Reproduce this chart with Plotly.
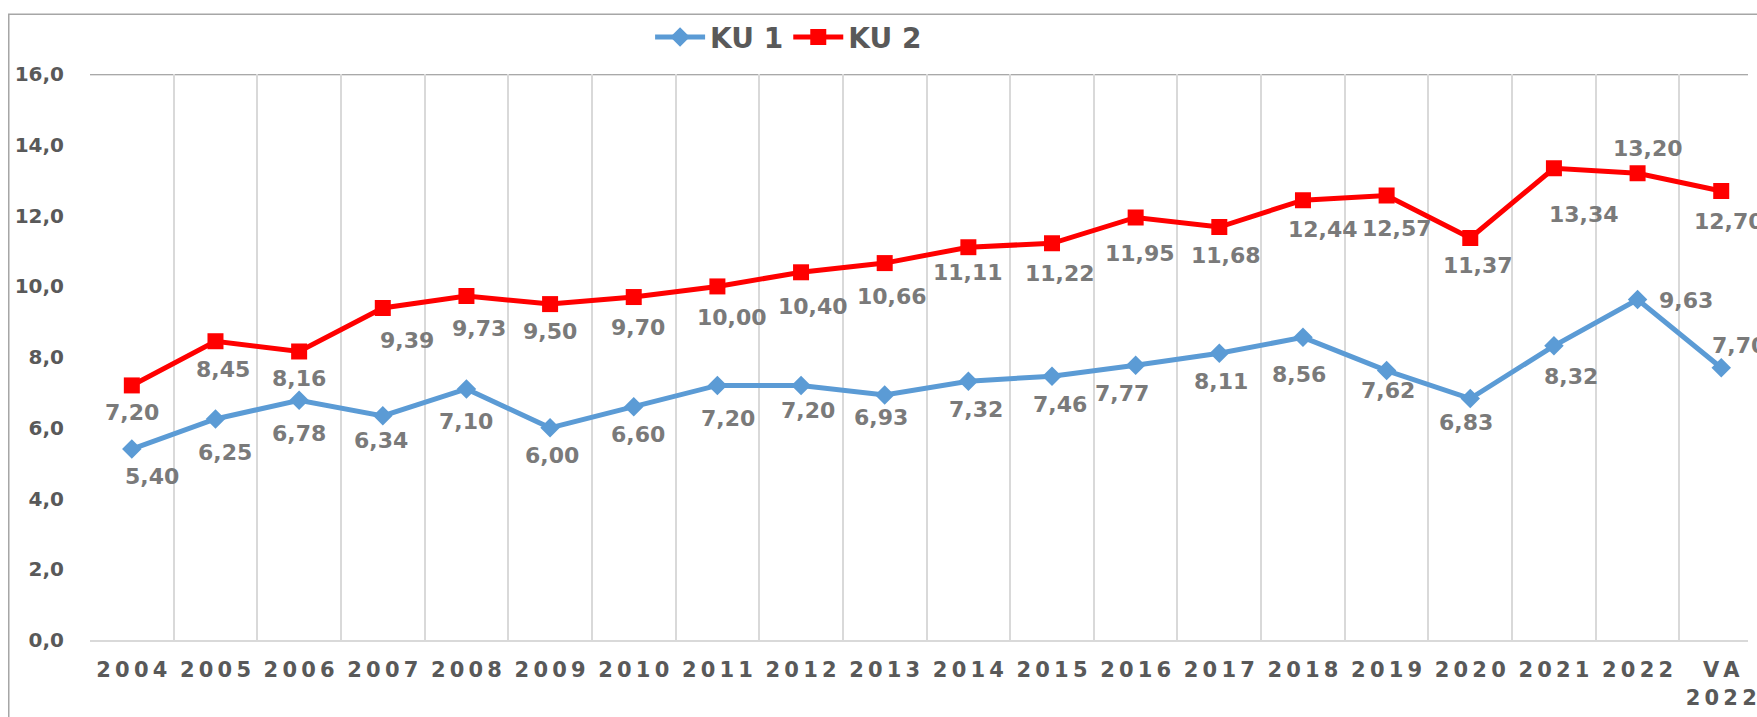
import plotly.graph_objects as go

categories = ["2004", "2005", "2006", "2007", "2008", "2009", "2010", "2011", "2012", "2013",
              "2014", "2015", "2016", "2017", "2018", "2019", "2020", "2021", "2022", "VA 2022"]
ku1 = [5.40, 6.25, 6.78, 6.34, 7.10, 6.00, 6.60, 7.20, 7.20, 6.93,
       7.32, 7.46, 7.77, 8.11, 8.56, 7.62, 6.83, 8.32, 9.63, 7.70]
ku2 = [7.20, 8.45, 8.16, 9.39, 9.73, 9.50, 9.70, 10.00, 10.40, 10.66,
       11.11, 11.22, 11.95, 11.68, 12.44, 12.57, 11.37, 13.34, 13.20, 12.70]
series_names = ["KU 1", "KU 2"]
y_ticks = [0, 2, 4, 6, 8, 10, 12, 14, 16]

# label offsets in pixels (dx right, dy down) — styling only
ku1_off = [(20, 27), (10, 33), (0, 33), (-2, 25), (0, 33), (2, 28), (4, 28), (11, 33), (7, 25), (-4, 23),
           (8, 28), (8, 28), (-14, 28), (2, 28), (-4, 37), (1, 20), (-4, 24), (17, 31), (48, 1), (18, -22)]
ku2_off = [(0, 27), (8, 28), (0, 27), (24, 33), (13, 33), (0, 27), (4, 30), (15, 31), (12, 34), (7, 33),
           (0, 25), (8, 30), (4, 36), (7, 28), (20, 29), (10, 33), (8, 28), (30, 46), (10, -25), (8, 31)]

BLUE = "#5B9BD5"
RED = "#FF0000"
FONT = "DejaVu Sans"

xs = list(range(len(categories)))


def spaced(s):
    lines = s.split(" ") if s.startswith("VA") else [s]
    return "<br>".join("\u2009".join(line) for line in lines)


fig = go.Figure()
fig.add_trace(go.Scatter(
    x=xs, y=ku1, name=series_names[0], mode="lines+markers",
    line=dict(color=BLUE, width=5),
    marker=dict(symbol="diamond", size=15, color=BLUE),
))
fig.add_trace(go.Scatter(
    x=xs, y=ku2, name=series_names[1], mode="lines+markers",
    line=dict(color=RED, width=5),
    marker=dict(symbol="square", size=16, color=RED),
))

annotations = []
for vals, offs in ((ku1, ku1_off), (ku2, ku2_off)):
    for x, v, (dx, dy) in zip(xs, vals, offs):
        annotations.append(dict(
            x=x, y=v, xref="x", yref="y", text=f"{v:.2f}".replace(".", ","),
            showarrow=False, xshift=dx, yshift=-dy,
            font=dict(family=FONT, size=22, color="#7A7A7A", weight="bold"),
        ))

shapes = [
    dict(type="line", xref="paper", yref="y", x0=0, x1=1, y0=16, y1=16,
         line=dict(color="#8C8C8C", width=2), layer="below"),
    dict(type="rect", xref="paper", yref="paper", x0=-0.049, x1=1.2, y0=-0.3, y1=1.106,
         line=dict(color="#A6A6A6", width=1.5), fillcolor="rgba(0,0,0,0)", layer="below"),
]

fig.update_layout(
    width=1757, height=717,
    margin=dict(l=90, r=0, t=69, b=77),
    paper_bgcolor="white", plot_bgcolor="white",
    separators=",.",
    font=dict(family=FONT, color="#595959"),
    showlegend=True,
    legend=dict(
        orientation="h", xref="container", yref="container",
        x=0.37, y=0.948, xanchor="left", yanchor="middle",
        font=dict(family=FONT, size=28, color="#595959", weight="bold"),
        bgcolor="rgba(0,0,0,0)", itemwidth=50, tracegroupgap=0,
    ),
    annotations=annotations,
    shapes=shapes,
)

fig.update_xaxes(
    range=[-0.5, 19.32],
    tickmode="array", tickvals=xs, ticktext=[spaced(c) for c in categories],
    showgrid=False, zeroline=False,
    showline=True, linecolor="#D9D9D9", linewidth=2,
    ticks="", ticklen=0, ticklabelstandoff=10, ticklabeloverflow="allow",
    tickfont=dict(family=FONT, size=21, color="#595959", weight="bold"),
    minor=dict(tickmode="array", tickvals=[i - 0.5 for i in range(len(categories) + 1)],
               showgrid=True, gridcolor="#D9D9D9", gridwidth=2, ticks=""),
)
fig.update_yaxes(
    range=[0, 16], tickmode="array", tickvals=y_ticks, tickformat=".1f",
    showgrid=False, zeroline=False, showline=False,
    ticks="outside", ticklen=21, tickcolor="rgba(0,0,0,0)",
    tickfont=dict(family=FONT, size=20, color="#595959", weight="bold"),
)

fig.write_html("out.html", config={"displayModeBar": False},
               post_script="document.body.style.margin='0';document.body.style.overflow='hidden';")
